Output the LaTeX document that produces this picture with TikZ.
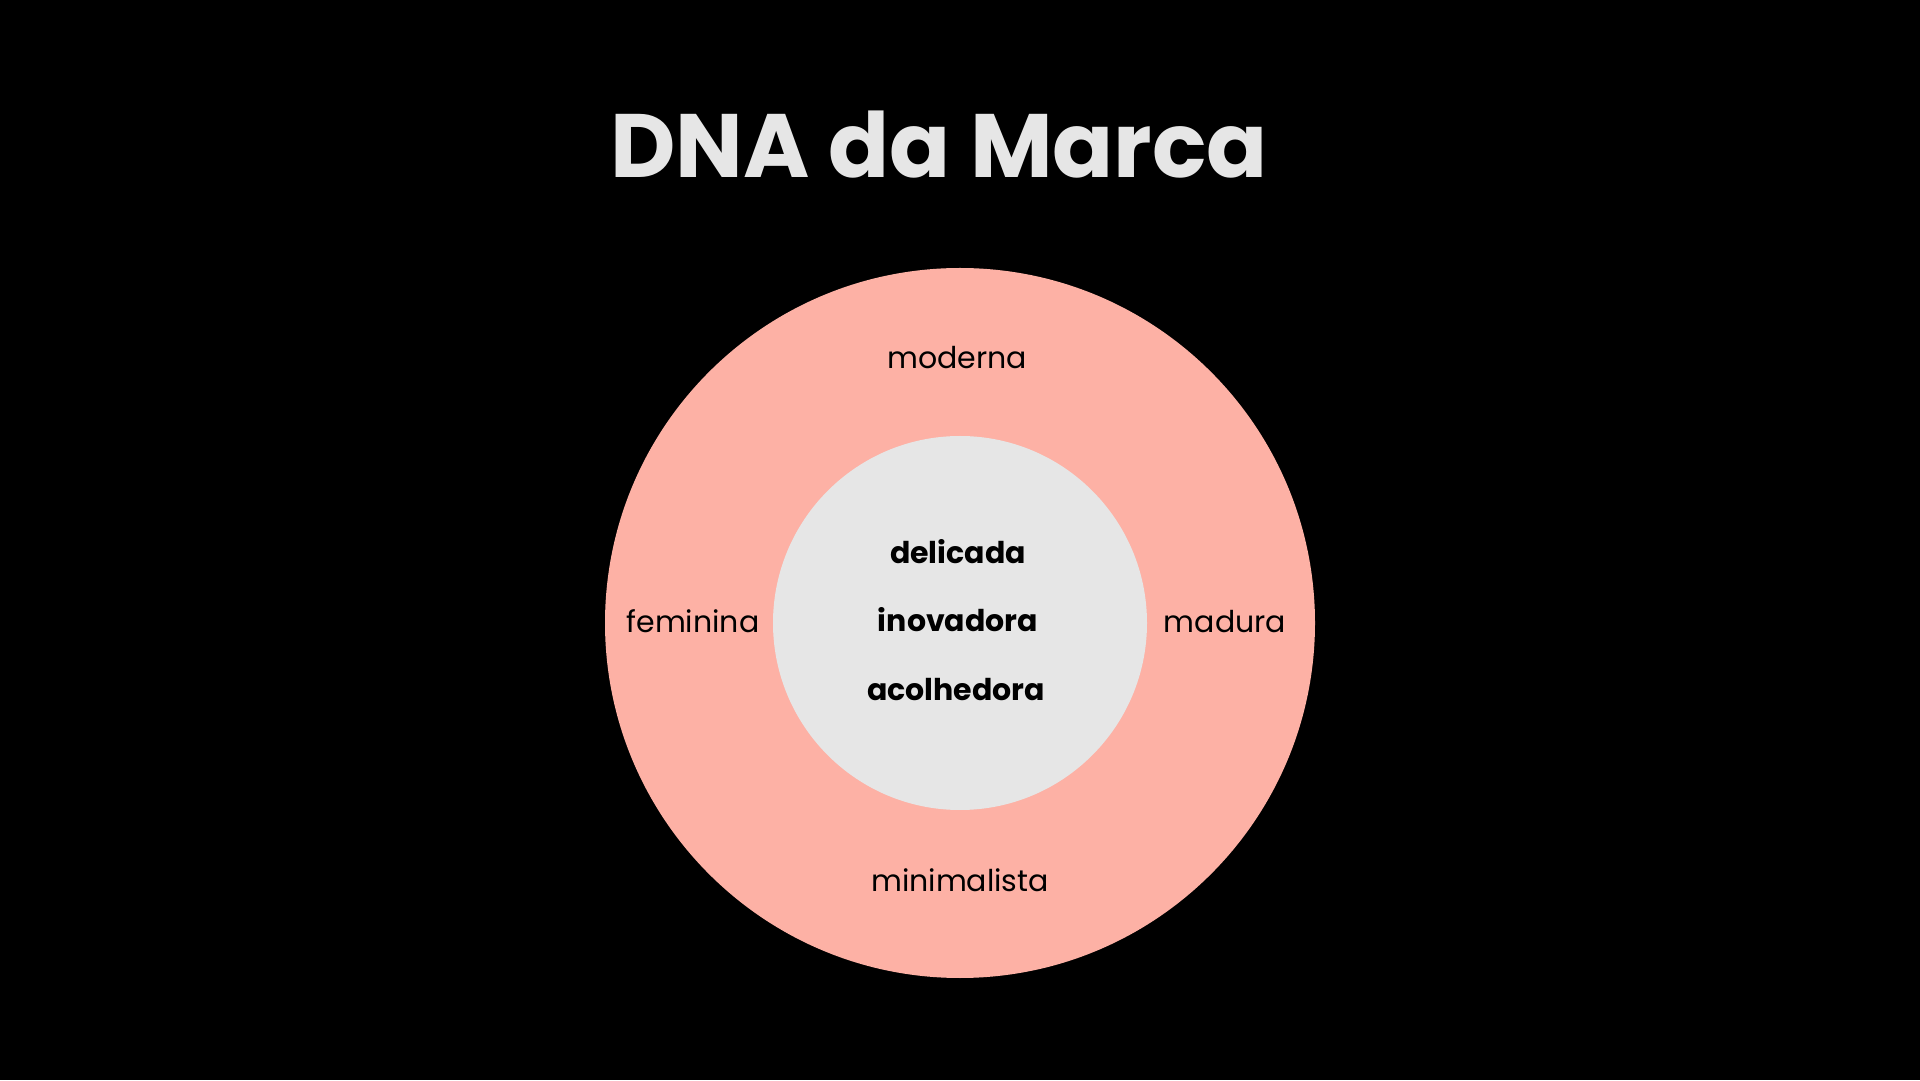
\documentclass[tikz,border=0pt]{standalone}
\usepackage{fontspec}
\setmainfont{Poppins}
\usetikzlibrary{positioning}
\definecolor{bg}{HTML}{000000}
\definecolor{salmon}{HTML}{FDB1A5}
\definecolor{core}{HTML}{E6E6E6}
\definecolor{ink}{HTML}{000000}
\tikzset{
  ring/.style={circle, fill=salmon, draw=none, inner sep=0pt},
  corecircle/.style={circle, fill=core, draw=none, inner sep=0pt},
  title/.style={font=\fontsize{90}{104}\selectfont\bfseries, text=core, anchor=base, inner sep=0pt},
  trait/.style={font=\fontsize{30}{36}\selectfont, text=ink, anchor=base, inner sep=0pt},
  coretrait/.style={font=\fontsize{30}{36}\selectfont\bfseries, text=ink, anchor=base, inner sep=0pt}
}

\begin{document}
\begin{tikzpicture}[x=1pt, y=1pt]
\fill[bg] (0,0) rectangle (1920,1080);
\useasboundingbox (0,0) rectangle (1920,1080);
\node[title] (ttl) at (939,902) {DNA da Marca};
\node[ring, minimum size=710pt] (outer) at (960,457) {};
\node[corecircle, minimum size=374pt] (inner) at (outer.center) {};
\node[trait] (moderna) at (957,711) {moderna};
\node[trait] (feminina) at (693,447) {feminina};
\node[trait] (madura) at (1225,447) {madura};
\node[trait] (minimal) at (960,189) {minimalista};
\node[coretrait] (delicada) at (958,516) {delicada};
\node[coretrait] (inovadora) at (958,448) {inovadora};
\node[coretrait] (acolhedora) at (956,379) {acolhedora};
\end{tikzpicture}
\end{document}
